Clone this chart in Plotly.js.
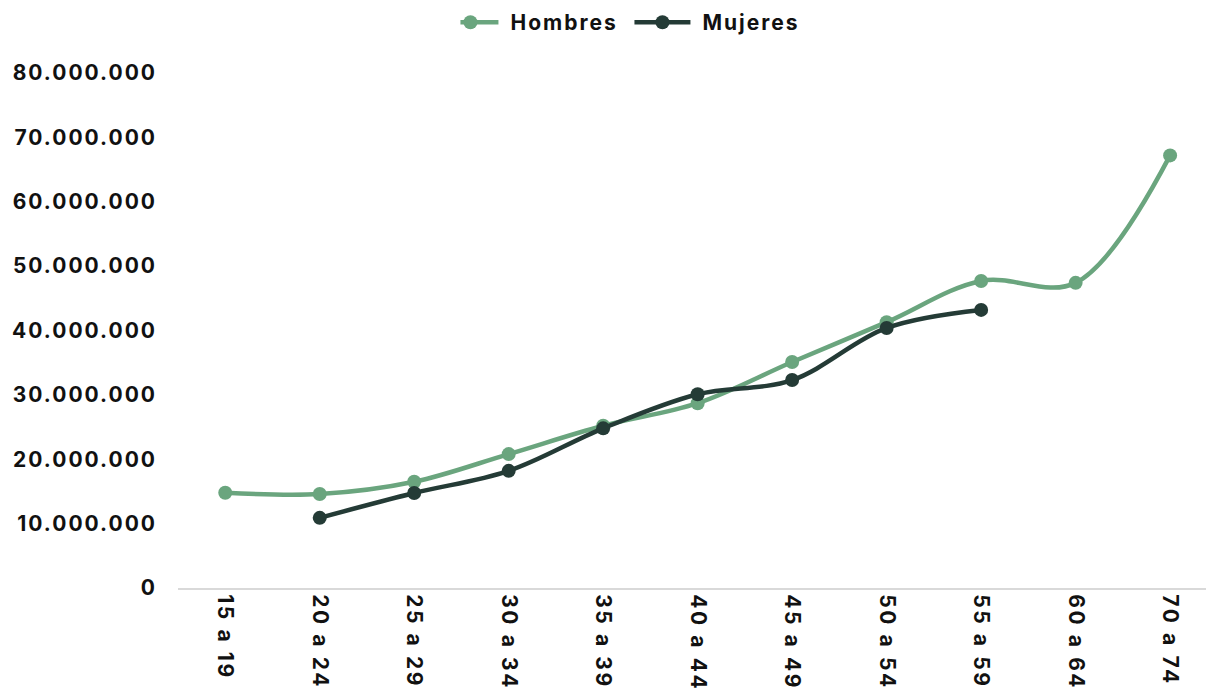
<!DOCTYPE html>
<html>
<head>
<meta charset="utf-8">
<script src="https://cdn.plot.ly/plotly-3.0.1.min.js"></script>
<style>
html,body{margin:0;padding:0;background:#fff;}
#chart{width:1206px;height:690px;}
.ytick text{letter-spacing:2px;}
.xtick text{letter-spacing:2.6px;}
.legendtext{letter-spacing:2px;}
</style>
</head>
<body>
<div id="chart"></div>
<script>
var categories = ["15 a 19","20 a 24","25 a 29","30 a 34","35 a 39","40 a 44","45 a 49","50 a 54","55 a 59","60 a 64","70 a 74"];
var hombres = [14.8e6, 14.6e6, 16.5e6, 20.8e6, 25.2e6, 28.7e6, 35.1e6, 41.3e6, 47.7e6, 47.4e6, 67.2e6];
var mujeres = [null, 10.9e6, 14.75e6, 18.2e6, 24.8e6, 30.1e6, 32.3e6, 40.4e6, 43.2e6, null, null];
var yTickVals = [0,10e6,20e6,30e6,40e6,50e6,60e6,70e6,80e6];
var yTickText = ["0","10.000.000","20.000.000","30.000.000","40.000.000","50.000.000","60.000.000","70.000.000","80.000.000"];

var FONT = "Inter, 'Noto Sans', sans-serif";
var traces = [
  {x: categories, y: hombres, name: "Hombres", type: "scatter", mode: "lines+markers",
   line: {color: "#6aa57e", width: 4.5, shape: "spline", smoothing: 1},
   marker: {color: "#6aa57e", size: 14}},
  {x: categories, y: mujeres, name: "Mujeres", type: "scatter", mode: "lines+markers",
   line: {color: "#243b36", width: 4.5, shape: "spline", smoothing: 1},
   marker: {color: "#243b36", size: 14}}
];
var layout = {
  width: 1206, height: 690,
  margin: {l: 178, r: 0, t: 73, b: 102},
  paper_bgcolor: "#fff", plot_bgcolor: "#fff",
  font: {family: FONT, color: "#111", size: 20, weight: 700},
  showlegend: true,
  legend: {orientation: "h", x: 0.541, xref: "container", xanchor: "center", y: 0.997, yref: "container", yanchor: "top",
           font: {family: FONT, size: 21, color: "#111", weight: 700}, itemwidth: 40, entrywidth: 137},
  xaxis: {type: "category", range: [-0.5, 10.38], tickangle: 90, automargin: false,
          showline: true, linecolor: "#d9d9d9", linewidth: 2, showgrid: false, zeroline: false,
          ticks: "", ticklen: 0,
          tickfont: {family: FONT, size: 21, color: "#111", weight: 700}},
  yaxis: {range: [0, 80e6], tickvals: yTickVals, ticktext: yTickText, automargin: false,
          showgrid: false, zeroline: false, showline: false, ticks: "",
          ticklabelstandoff: 20,
          tickfont: {family: FONT, size: 21, color: "#111", weight: 700}}
};
Plotly.newPlot("chart", traces, layout, {displayModeBar: false, staticPlot: true}).then(function(gd){
  // longer legend line samples, marker centred on them
  gd.querySelectorAll('.legendlines path').forEach(function(p){ p.setAttribute('d','M-18,0h56'); });
  gd.querySelectorAll('.legendpoints path').forEach(function(p){ p.setAttribute('transform','translate(10,0)'); });
});
</script>
</body>
</html>
